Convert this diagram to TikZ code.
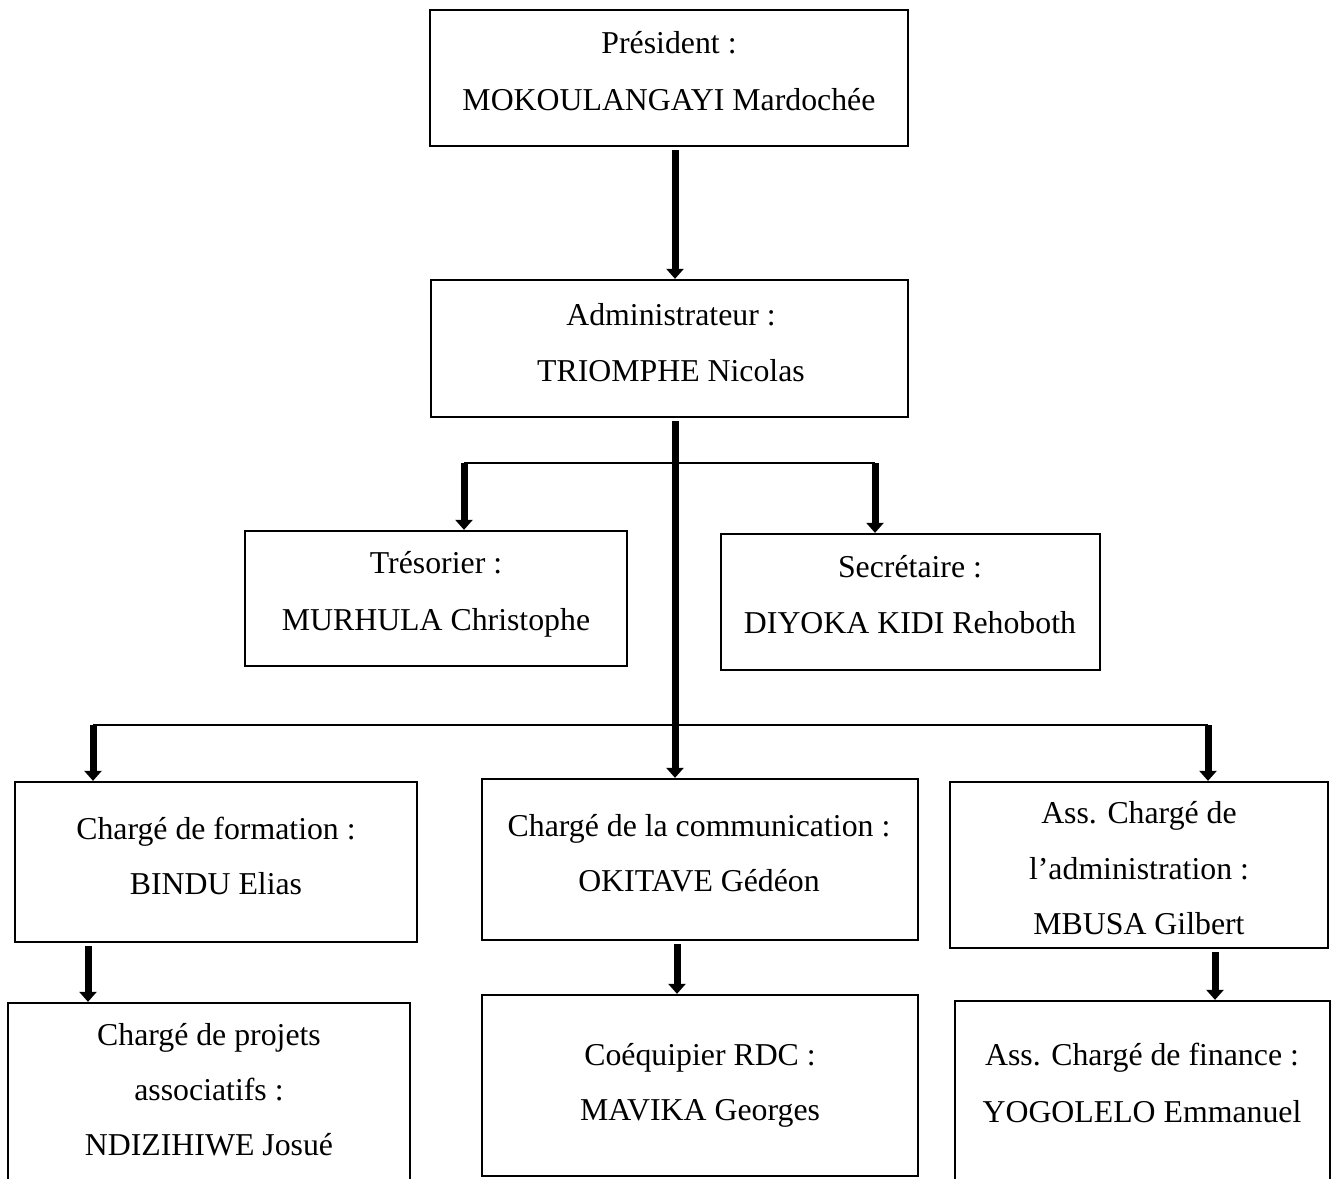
\documentclass[tikz,border=0pt]{standalone}
\usepackage{fontspec}
\setmainfont{Liberation Serif}
\usetikzlibrary{arrows.meta}
\tikzset{
  box/.style={draw=black, line width=2.3pt, fill=white, inner sep=0pt},
  txt/.style={anchor=base, inner sep=0pt, font=\fontsize{31.8}{40}\selectfont},
  arr/.style={line width=7pt, -{Triangle[width=17pt,length=10pt]}},
  joint/.style={line width=1.4pt},
}
\begin{document}
\begin{tikzpicture}[x=1pt,y=-1pt]
\useasboundingbox (0,0) rectangle (1335,1178);
\clip (0,0) rectangle (1335,1178);
\fill[white] (0,0) rectangle (1335,1178);

% boxes
\node[box, minimum width=478pt, minimum height=136pt] (pres)   at (669,78) {};
\node[box, minimum width=477pt, minimum height=137pt] (admin)  at (669.5,348.5) {};
\node[box, minimum width=382pt, minimum height=135pt] (tres)   at (436,598.5) {};
\node[box, minimum width=379pt, minimum height=136pt] (sec)    at (910.5,602) {};
\node[box, minimum width=402pt, minimum height=160pt] (form)   at (216,862) {};
\node[box, minimum width=436pt, minimum height=161pt] (comm)   at (700,859.5) {};
\node[box, minimum width=378pt, minimum height=166pt] (assadm) at (1139,865) {};
\node[box, minimum width=402pt, minimum height=192pt] (proj)   at (209,1099) {};
\node[box, minimum width=436pt, minimum height=181pt] (coeq)   at (700,1085.5) {};
\node[box, minimum width=375pt, minimum height=194pt] (fin)    at (1142.5,1098) {};

% texts
\node[txt] (tp1) at (669,53) {Président :};
\node[txt] (tp2) at (669,110) {MOKOULANGAYI Mardochée};
\node[txt] (ta1) at (671,325) {Administrateur :};
\node[txt] (ta2) at (671,381) {TRIOMPHE Nicolas};
\node[txt] (tt1) at (436,573) {Trésorier :};
\node[txt] (tt2) at (436,630) {MURHULA Christophe};
\node[txt] (ts1) at (910,577) {Secrétaire :};
\node[txt] (ts2) at (910,633) {DIYOKA KIDI Rehoboth};
\node[txt] (tf1) at (216,839) {Chargé de formation :};
\node[txt] (tf2) at (216,894) {BINDU Elias};
\node[txt] (tc1) at (699,836) {Chargé de la communication :};
\node[txt] (tc2) at (699,891) {OKITAVE Gédéon};
\node[txt] (tx1) at (1139,823) {Ass. Chargé de};
\node[txt] (tx2) at (1139,879) {l’administration :};
\node[txt] (tx3) at (1139,934) {MBUSA Gilbert};
\node[txt] (tj1) at (209,1045) {Chargé de projets};
\node[txt] (tj2) at (209,1100) {associatifs :};
\node[txt] (tj3) at (209,1155) {NDIZIHIWE Josué};
\node[txt] (tq1) at (700,1065) {Coéquipier RDC :};
\node[txt] (tq2) at (700,1120) {MAVIKA Georges};
\node[txt] (tn1) at (1142,1065) {Ass. Chargé de finance :};
\node[txt] (tn2) at (1142,1122) {YOGOLELO Emmanuel};

% connector points
\coordinate (a1) at (675,150);
\coordinate (t0) at (675,421);
\coordinate (b1l) at (464,463);
\coordinate (b1r) at (875,463);
\coordinate (b2l) at (93,725);
\coordinate (b2r) at (1208,725);
\coordinate (c1) at (88,946);
\coordinate (c2) at (677,944);
\coordinate (c3) at (1215,952);

% connectors
\draw[joint] (b1l) -- (b1r);
\draw[joint] (b2l) -- (b2r);
\draw[arr] (a1) -- (a1 |- admin.north);
\draw[arr] (t0) -- (t0 |- comm.north);
\draw[arr] (b1l) -- (b1l |- tres.north);
\draw[arr] (b1r) -- (b1r |- sec.north);
\draw[arr] (b2l) -- (b2l |- form.north);
\draw[arr] (b2r) -- (b2r |- assadm.north);
\draw[arr] (c1) -- (c1 |- proj.north);
\draw[arr] (c2) -- (c2 |- coeq.north);
\draw[arr] (c3) -- (c3 |- fin.north);
\end{tikzpicture}
\end{document}
